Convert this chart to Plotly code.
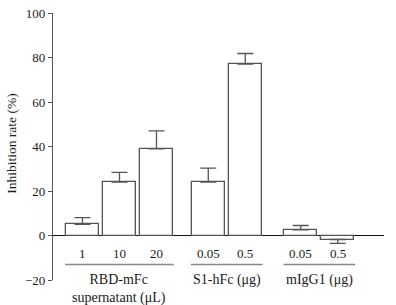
import plotly.graph_objects as go

# Data
groups = ["RBD-mFc<br>supernatant (μL)", "S1-hFc (μg)", "mIgG1 (μg)"]
dose_labels = ["1", "10", "20", "0.05", "0.5", "0.05", "0.5"]
group_index = [0, 0, 0, 1, 1, 2, 2]
inhibition = [5, 24, 39, 24, 77, 2.5, -1.8]
err = [3, 4.4, 8, 6.3, 4.8, 2, 1.7]

# positions (layout only)
x_pos = [0, 1, 2, 3.4, 4.4, 5.9, 6.9]

err_plus = [e if v >= 0 else 0 for v, e in zip(inhibition, err)]
err_minus = [e if v < 0 else 0 for v, e in zip(inhibition, err)]

font_family = "Liberation Serif"
gray = "#555555"
txt = "#1a1a1a"

W, H = 396, 305
L, R, T, B = 53, 12, 13, 25
plot_w = W - L - R

fig = go.Figure()
fig.add_trace(go.Bar(
    x=x_pos, y=inhibition, width=0.89,
    marker=dict(color="white", line=dict(color=gray, width=1.3)),
    error_y=dict(type="data", symmetric=False, array=err_plus, arrayminus=err_minus,
                 color=gray, thickness=1.3, width=8),
    showlegend=False, hoverinfo="skip",
))

annotations = []
for xp, lab in zip(x_pos, dose_labels):
    annotations.append(dict(x=xp, y=-8.1, xref="x", yref="y", text=lab, showarrow=False,
                            font=dict(family=font_family, size=13, color=txt)))

shapes = []
for g, name in enumerate(groups):
    xs = [x for x, gi in zip(x_pos, group_index) if gi == g]
    x0, x1 = min(xs) - 0.47, max(xs) + 0.47
    shapes.append(dict(type="line", xref="x", yref="y", x0=x0, x1=x1, y0=-13, y1=-13,
                       line=dict(color="#888", width=1.5)))
    annotations.append(dict(x=(min(xs) + max(xs)) / 2, y=-15.3, xref="x", yref="y",
                            text=name, showarrow=False, yanchor="top",
                            font=dict(family=font_family, size=14, color=txt)))

# y-axis title centred at x=12 px
annotations.append(dict(x=(12 - L) / plot_w, y=0.51, xref="paper", yref="paper",
                        text="Inhibition rate (%)", showarrow=False, textangle=-90,
                        xanchor="center", yanchor="middle",
                        font=dict(family=font_family, size=13.5, color=txt)))

fig.update_layout(
    width=W, height=H,
    margin=dict(l=L, r=R, t=T, b=B, autoexpand=False),
    paper_bgcolor="white", plot_bgcolor="white",
    font=dict(family=font_family, size=13, color=txt),
    xaxis=dict(range=[-0.797, 8.15], showticklabels=False, showgrid=False,
               zeroline=False, showline=False, ticks="", automargin=False),
    yaxis=dict(range=[-20, 100], tickvals=[-20, 0, 20, 40, 60, 80, 100],
               showgrid=False, showline=True, linecolor=gray, linewidth=1.2,
               ticks="outside", ticklen=4, tickcolor=gray, tickwidth=1.2,
               zeroline=True, zerolinecolor="#111", zerolinewidth=1.2,
               automargin=False,
               tickfont=dict(family=font_family, size=13, color=txt)),
    annotations=annotations, shapes=shapes,
    bargap=0,
)

fig.write_html("out.html", config={"displayModeBar": False},
               post_script="document.body.style.margin='0';document.body.style.overflow='hidden';")
